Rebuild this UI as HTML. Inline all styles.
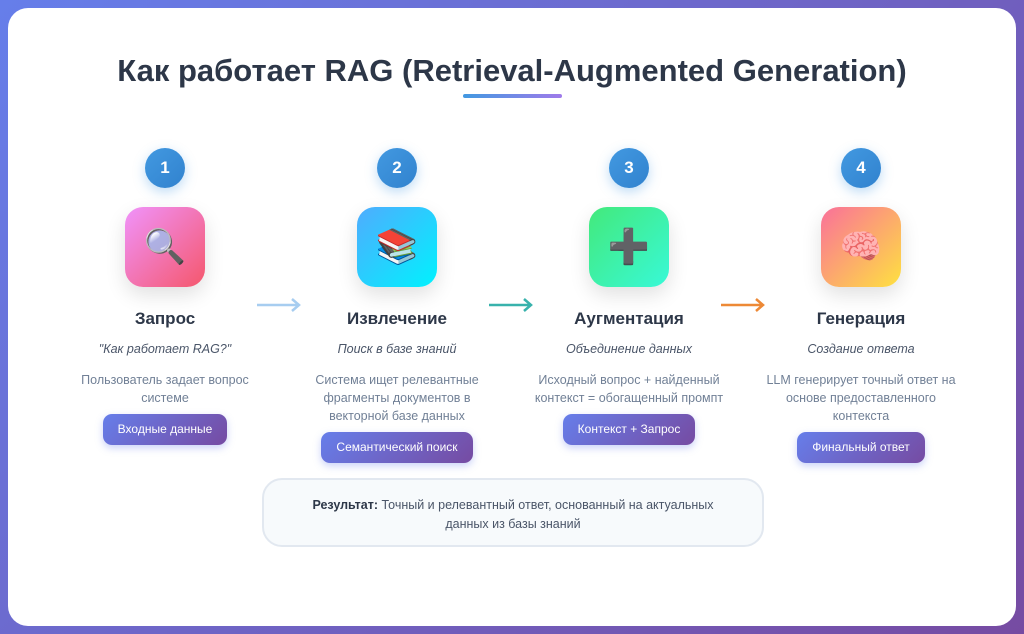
<!DOCTYPE html>
<html><head><meta charset="utf-8"><style>
*{margin:0;padding:0;box-sizing:border-box}
body{width:1024px;height:634px;background:linear-gradient(135deg,#667eea,#764ba2);font-family:"Liberation Sans","DejaVu Sans",sans-serif;position:relative;overflow:hidden}
.card{position:absolute;left:8px;top:8px;width:1008px;height:618px;background:#fff;border-radius:20px}
h1{position:absolute;top:53px;left:0;width:1024px;text-align:center;font-size:31px;font-weight:bold;color:#2d3748}
.bar{position:absolute;left:463px;top:94px;width:99px;height:4px;border-radius:2px;background:linear-gradient(90deg,#4299e1,#9f7aea)}
.col{position:absolute;top:148px;width:220px;text-align:center}
.num{width:40px;height:40px;border-radius:50%;background:linear-gradient(135deg,#4299e1,#3182ce);color:#fff;font-weight:bold;font-size:17px;line-height:40px;margin:0 auto;box-shadow:0 4px 12px rgba(66,153,225,.35)}
.ic{width:80px;height:80px;border-radius:18px;margin:19px auto 0;box-shadow:0 8px 20px rgba(0,0,0,.12);font-size:34px;line-height:80px}
.t{margin-top:22px;font-size:17px;font-weight:bold;color:#2d3748}
.s{margin-top:13px;font-size:12.5px;font-style:italic;color:#4a5568}
.d{margin-top:15px;font-size:12.5px;line-height:18px;color:#718096;padding:0 2px}
.b{display:inline-block;margin-top:7px;padding:0 15px;height:31px;line-height:31px;border-radius:9px;background:linear-gradient(135deg,#667eea,#764ba2);color:#fff;font-size:12px;box-shadow:0 3px 8px rgba(102,126,234,.35)}
.arr{position:absolute;top:296px}
.res{position:absolute;left:262px;top:478px;width:502px;height:69px;border:2px solid #e2e8f0;border-radius:20px;background:#f7fafc;text-align:center;font-size:12.5px;color:#4a5568;line-height:19px;padding-top:16px}
</style></head><body>
<div class="card"></div>
<h1>Как работает RAG (Retrieval-Augmented Generation)</h1>
<div class="bar"></div>

<div class="col" style="left:55px"><div class="num">1</div>
<div class="ic" style="background:linear-gradient(135deg,#f093fb,#f5576c)">🔍</div>
<div class="t">Запрос</div><div class="s">"Как работает RAG?"</div>
<div class="d">Пользователь задает вопрос<br>системе</div><div class="b">Входные данные</div></div>

<div class="col" style="left:287px"><div class="num">2</div>
<div class="ic" style="background:linear-gradient(135deg,#4facfe,#00f2fe)">📚</div>
<div class="t">Извлечение</div><div class="s">Поиск в базе знаний</div>
<div class="d">Система ищет релевантные<br>фрагменты документов в<br>векторной базе данных</div><div class="b">Семантический поиск</div></div>

<div class="col" style="left:519px"><div class="num">3</div>
<div class="ic" style="background:linear-gradient(135deg,#43e97b,#38f9d7)">➕</div>
<div class="t">Аугментация</div><div class="s">Объединение данных</div>
<div class="d">Исходный вопрос + найденный<br>контекст = обогащенный промпт</div><div class="b">Контекст + Запрос</div></div>

<div class="col" style="left:751px"><div class="num">4</div>
<div class="ic" style="background:linear-gradient(135deg,#fa709a,#fee140)">🧠</div>
<div class="t">Генерация</div><div class="s">Создание ответа</div>
<div class="d">LLM генерирует точный ответ на<br>основе предоставленного<br>контекста</div><div class="b">Финальный ответ</div></div>

<svg class="arr" style="left:256px" width="46" height="18"><path d="M1 9H43M36 3L43 9L36 15" stroke="#a7cdf0" stroke-width="2.5" fill="none"/></svg>
<svg class="arr" style="left:488px" width="46" height="18"><path d="M1 9H43M36 3L43 9L36 15" stroke="#38b2ac" stroke-width="2.5" fill="none"/></svg>
<svg class="arr" style="left:720px" width="46" height="18"><path d="M1 9H43M36 3L43 9L36 15" stroke="#ed8936" stroke-width="2.5" fill="none"/></svg>

<div class="res"><b style="color:#2d3748">Результат:</b> Точный и релевантный ответ, основанный на актуальных<br>данных из базы знаний</div>
</body></html>
